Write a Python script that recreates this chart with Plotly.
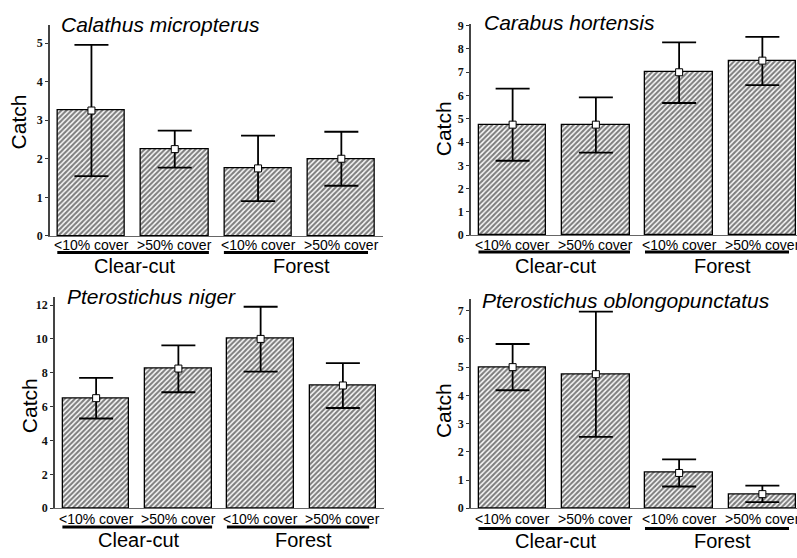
import plotly.graph_objects as go

W, H = 797, 558

# ---------------- data ----------------
tick_labels = ["<10% cover", ">50% cover", "<10% cover", ">50% cover"]
group_labels = ["Clear-cut", "Forest"]
x_pos = [0, 1, 2, 3]

titles = ["Calathus micropterus", "Carabus hortensis",
          "Pterostichus niger", "Pterostichus oblongopunctatus"]

calathus_mean = [3.25, 2.25, 1.75, 2.0]
calathus_upper = [4.95, 2.73, 2.6, 2.7]
calathus_lower = [1.55, 1.77, 0.9, 1.3]

carabus_mean = [4.75, 4.75, 7.0, 7.5]
carabus_upper = [6.3, 5.92, 8.28, 8.52]
carabus_lower = [3.2, 3.55, 5.68, 6.45]

niger_mean = [6.5, 8.25, 10.0, 7.25]
niger_upper = [7.7, 9.62, 11.9, 8.57]
niger_lower = [5.3, 6.85, 8.07, 5.92]

oblongo_mean = [5.0, 4.75, 1.25, 0.5]
oblongo_upper = [5.82, 6.97, 1.73, 0.8]
oblongo_lower = [4.18, 2.53, 0.77, 0.22]

series = [
    (calathus_mean, calathus_upper, calathus_lower),
    (carabus_mean, carabus_upper, carabus_lower),
    (niger_mean, niger_upper, niger_lower),
    (oblongo_mean, oblongo_upper, oblongo_lower),
]

# ---------------- layout (pixels) ----------------
panels = [
    dict(left=49.8, right=383, top=20.7, bottom=236, xr=[-0.5, 3.5], yr=[0, 5.46], dt=1,
         title_xy=(59, 20), catch_xy=(18, 120), tick_y=245.7, group_y=267, line_y=253),
    dict(left=471, right=797, top=19.5, bottom=235.3, xr=[-0.5, 3.416], yr=[0, 9.07], dt=1,
         title_xy=(482, 18), catch_xy=(443, 127), tick_y=245.7, group_y=267, line_y=252.5),
    dict(left=55, right=384, top=298, bottom=514.3, xr=[-0.5, 3.5], yr=[0, 12.5], dt=2,
         title_xy=(65, 298), catch_xy=(29, 410), tick_y=525.7, group_y=547, line_y=533.5),
    dict(left=471, right=797, top=300, bottom=514.3, xr=[-0.5, 3.416], yr=[0, 7.43], dt=1,
         title_xy=(480, 302), catch_xy=(443, 415), tick_y=525.7, group_y=548, line_y=535),
]

def px(x):
    return x / W

def py(y):
    return 1 - y / H

SANS = "Liberation Sans, Arial, sans-serif"
SERIF = "Liberation Serif, Times New Roman, serif"

fig = go.Figure()
annotations = []
shapes = []

for i, (p, (mean, upper, lower)) in enumerate(zip(panels, series)):
    n = i + 1
    xa = "x" if n == 1 else f"x{n}"
    ya = "y" if n == 1 else f"y{n}"
    fig.add_trace(go.Bar(
        x=x_pos, y=mean, xaxis=xa, yaxis=ya, width=0.81,
        marker=dict(color="white", line=dict(color="black", width=1.3),
                    pattern=dict(shape="/", size=3.6, solidity=0.6,
                                 fgcolor="#000", bgcolor="white", fillmode="overlay")),
        showlegend=False, hoverinfo="skip",
    ))
    fig.add_trace(go.Scatter(
        x=x_pos, y=mean, xaxis=xa, yaxis=ya, mode="markers",
        marker=dict(symbol="square", size=7, color="white",
                    line=dict(color="black", width=1)),
        error_y=dict(type="data", symmetric=False,
                     array=[u - m for u, m in zip(upper, mean)],
                     arrayminus=[m - l for m, l in zip(mean, lower)],
                     color="black", thickness=1.8, width=17),
        showlegend=False, hoverinfo="skip",
    ))
    xkey = "xaxis" if n == 1 else f"xaxis{n}"
    ykey = "yaxis" if n == 1 else f"yaxis{n}"
    fig.update_layout(**{
        xkey: dict(domain=[px(p["left"]), px(p["right"])], range=p["xr"],
                   anchor=ya, showgrid=False, zeroline=False, showticklabels=False,
                   ticks="", showline=True, linecolor="#666", linewidth=1),
        ykey: dict(domain=[py(p["bottom"]), py(p["top"])], range=p["yr"],
                   anchor=xa, showgrid=False, zeroline=False,
                   tickmode="linear", tick0=0, dtick=p["dt"],
                   ticks="outside", ticklen=3, tickwidth=1, tickcolor="#333",
                   tickfont=dict(family=SERIF, size=12, color="#111", weight="bold"),
                   showline=True, linecolor="#444", linewidth=1.5),
    })
    # title
    annotations.append(dict(text=titles[i], x=px(p["title_xy"][0]), y=py(p["title_xy"][1]),
                            xref="paper", yref="paper", xanchor="left", yanchor="middle",
                            showarrow=False,
                            font=dict(family=SANS, size=21, style="italic", color="black")))
    # y label
    annotations.append(dict(text="Catch", x=px(p["catch_xy"][0]), y=py(p["catch_xy"][1]),
                            xref="paper", yref="paper", xanchor="center", yanchor="middle",
                            textangle=-90, showarrow=False,
                            font=dict(family=SANS, size=21, color="black")))
    # category tick labels
    for xv, lab in zip(x_pos, tick_labels):
        annotations.append(dict(text=lab, x=xv, y=py(p["tick_y"]), xref=xa, yref="paper",
                                xanchor="center", yanchor="middle", showarrow=False,
                                font=dict(family=SANS, size=14, color="black")))
    # group labels and underlines
    for (gx, lab, x0, x1) in [(0.52, group_labels[0], -0.41, 1.41),
                               (2.52, group_labels[1], 1.59, 3.32)]:
        annotations.append(dict(text=lab, x=gx, y=py(p["group_y"]), xref=xa, yref="paper",
                                xanchor="center", yanchor="middle", showarrow=False,
                                font=dict(family=SANS, size=20, color="black")))
        shapes.append(dict(type="line", xref=xa, yref="paper", x0=x0, x1=x1,
                           y0=py(p["line_y"]), y1=py(p["line_y"]),
                           line=dict(color="black", width=3)))

fig.update_layout(
    width=W, height=H, margin=dict(l=0, r=0, t=0, b=0),
    paper_bgcolor="white", plot_bgcolor="white",
    annotations=annotations, shapes=shapes, bargap=0,
)

fig.write_html("out.html")
